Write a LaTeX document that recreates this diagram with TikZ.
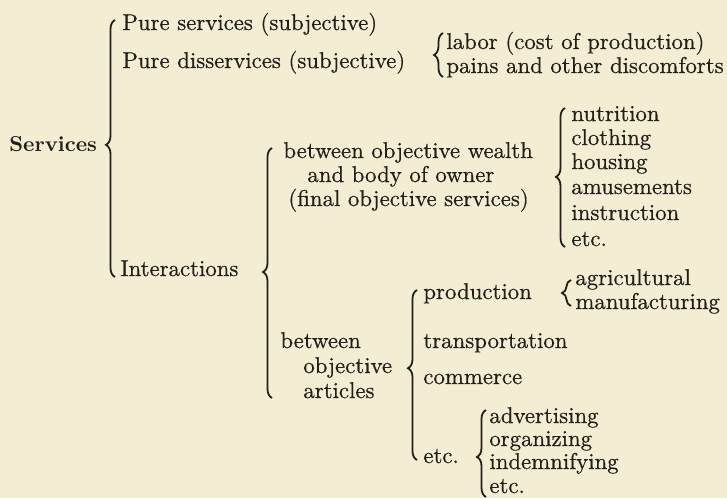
\documentclass[tikz,border=0pt]{standalone}
\usepackage{fontspec}
\newfontfamily\bookfont{lmroman10-regular.otf}[FakeBold=0.6]
\newfontfamily\bookbold{lmroman10-bold.otf}
\usetikzlibrary{decorations.pathreplacing}
\definecolor{paper}{RGB}{243,237,212}
\definecolor{ink}{RGB}{36,30,27}
\tikzset{
  lbl/.style={anchor=west,inner sep=0pt,text height=7pt,text depth=1pt,text=ink,font=\bookfont\fontsize{11.4}{13}\selectfont},
  brc/.style={draw=ink,line width=0.9pt,decorate,decoration={brace,amplitude=4.5pt}}
}
\begin{document}
\begin{tikzpicture}[x=0.5pt,y=-0.5pt]
			\fill[paper] (0,0) rectangle (727,498);
			\useasboundingbox (0,0) rectangle (727,498);
			\node[lbl,font=\bookbold\fontsize{10.8}{12}\selectfont] (svc) at (9,145) {Services};
			\node[lbl] (ps) at (122,24) {Pure services (subjective)};
			\node[lbl] (pd) at (122,62) {Pure disservices (subjective)};
			\node[lbl] (labor) at (446,43) {labor (cost of production)};
			\node[lbl] (pains) at (446,67) {pains and other discomforts};
			\node[lbl] (inter) at (120,270) {Interactions};
			\node[lbl] (bow1) at (283,152) {between objective wealth};
			\node[lbl] (bow2) at (307,176) {and body of owner};
			\node[lbl] (bow3) at (288,200) {(final objective services)};
			\node[lbl] (nutr) at (571,115) {nutrition};
			\node[lbl] (cloth) at (571,139) {clothing};
			\node[lbl] (hous) at (571,163) {housing};
			\node[lbl] (amuse) at (571,188) {amusements};
			\node[lbl] (instr) at (571,214) {instruction};
			\node[lbl] (etcw) at (571,240) {etc.};
			\node[lbl] (boa1) at (280,342) {between};
			\node[lbl] (boa2) at (303,367) {objective};
			\node[lbl] (boa3) at (303,392) {articles};
			\node[lbl] (prod) at (423,293) {production};
			\node[lbl] (agri) at (575,279) {agricultural};
			\node[lbl] (manu) at (575,303) {manufacturing};
			\node[lbl] (trans) at (423,342) {transportation};
			\node[lbl] (comm) at (423,378) {commerce};
			\node[lbl] (etca) at (423,457) {etc.};
			\node[lbl] (adv) at (489,417) {advertising};
			\node[lbl] (org) at (489,440) {organizing};
			\node[lbl] (indem) at (489,463) {indemnifying};
			\node[lbl] (etcb) at (489,487) {etc.};
			% braces, drawn upwards so the tip points left
			\draw[brc,decoration={aspect=0.514}] (115,277) -- (115,20);
			\draw[brc] (443,77) -- (443,33);
			\draw[brc,decoration={aspect=0.504}] (272,398) -- (272,148);
			\draw[brc,decoration={aspect=0.504}] (565,247) -- (565,108);
			\draw[brc,decoration={aspect=0.54}] (417,460) -- (417,290);
			\draw[brc] (571,306) -- (571,280);
			\draw[brc,decoration={aspect=0.46}] (486,497) -- (486,410);
		\end{tikzpicture}
\end{document}
